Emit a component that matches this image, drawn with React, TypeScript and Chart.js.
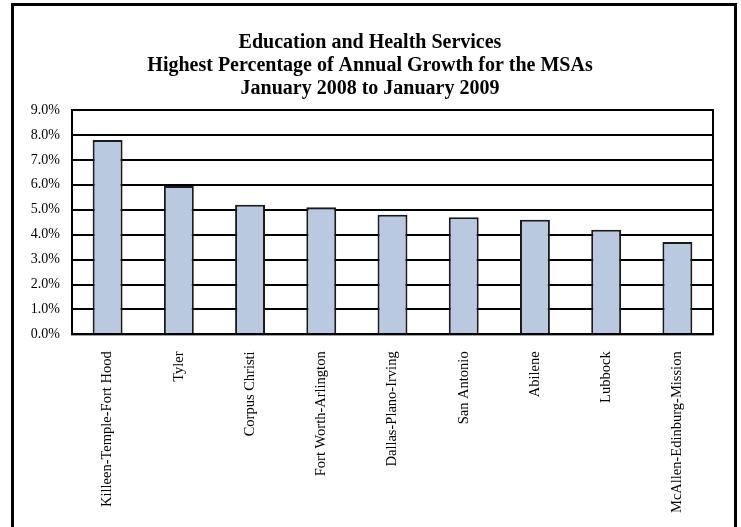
import React, { useEffect, useRef } from "react";
import { Chart, registerables } from "chart.js";

Chart.register(...registerables);

const titleLines = [
  "Education and Health Services",
  "Highest Percentage of Annual Growth for the MSAs",
  "January 2008 to January 2009",
];

const categories = [
  "Killeen-Temple-Fort Hood",
  "Tyler",
  "Corpus Christi",
  "Fort Worth-Arlington",
  "Dallas-Plano-Irving",
  "San Antonio",
  "Abilene",
  "Lubbock",
  "McAllen-Edinburg-Mission",
];

const growth = [7.8, 5.95, 5.2, 5.1, 4.8, 4.7, 4.6, 4.2, 3.7];

const yMin = 0;
const yMax = 9;
const yStep = 1;

const FONT = "'Liberation Serif', 'Times New Roman', serif";

const frame = {
  id: "frame",
  afterDatasetsDraw(chart: any) {
    const { ctx, chartArea } = chart;
    ctx.save();
    ctx.strokeStyle = "#000";
    ctx.lineWidth = 2;
    ctx.strokeRect(chartArea.left, chartArea.top, chartArea.right - chartArea.left, chartArea.bottom - chartArea.top);
    ctx.restore();
  },
};

export default function App() {
  const ref = useRef<HTMLCanvasElement | null>(null);

  useEffect(() => {
    if (!ref.current) return;
    const chart = new Chart(ref.current, {
      type: "bar",
      data: {
        labels: categories,
        datasets: [
          {
            data: growth,
            backgroundColor: "#b9c9e0",
            borderColor: "#1a1a1a",
            borderWidth: 2,
            barPercentage: 0.42,
            categoryPercentage: 1,
          },
        ],
      },
      plugins: [frame],
      options: {
        responsive: false,
        animation: false,
        devicePixelRatio: 1,
        layout: { padding: { left: 13, right: 21, top: 0, bottom: 20 } },
        plugins: {
          legend: { display: false },
          tooltip: { enabled: false },
          title: {
            display: true,
            text: titleLines,
            color: "#000",
            font: { family: FONT, size: 20, weight: "bold", lineHeight: 1.15 },
            padding: { top: 25.5, bottom: 9.5 },
          },
        },
        scales: {
          x: {
            grid: { display: false, drawTicks: false },
            border: { display: true, color: "#000", width: 2 },
            ticks: {
              color: "#000",
              font: { family: FONT, size: 14.5 },
              maxRotation: 90,
              minRotation: 90,
              autoSkip: false,
              padding: 17,
            },
          },
          y: {
            min: yMin,
            max: yMax,
            afterFit: (scale: any) => {
              scale.width = 45;
            },
            grid: { color: "#000", lineWidth: 2, drawTicks: false },
            border: { display: true, color: "#000", width: 2 },
            ticks: {
              stepSize: yStep,
              color: "#000",
              font: { family: FONT, size: 14 },
              padding: 12,
              callback: (v: any) => Number(v).toFixed(1) + "%",
            },
          },
        },
      },
    });
    return () => chart.destroy();
  }, []);

  return (
    <div
      style={{
        position: "absolute",
        left: 11,
        top: 3,
        width: 720,
        height: 560,
        border: "3px solid #000",
        background: "#fff",
      }}
    >
      <canvas ref={ref} width={720} height={544} style={{ display: "block" }} />
    </div>
  );
}
